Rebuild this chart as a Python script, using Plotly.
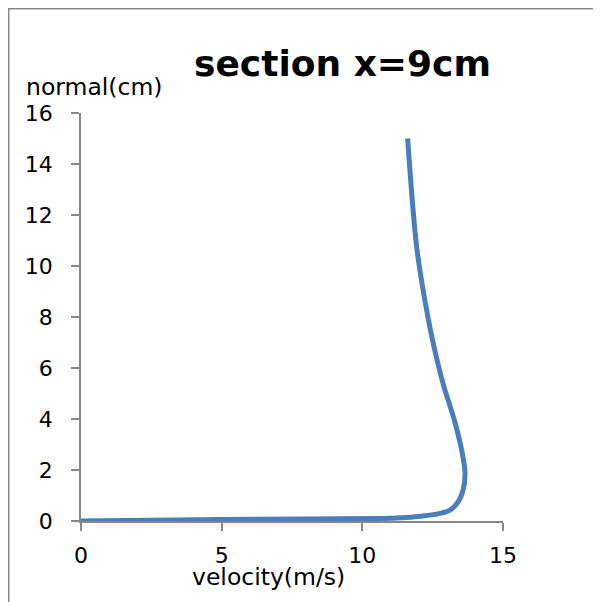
import plotly.graph_objects as go

# velocity (m/s) and normal distance (cm)
velocity = [0, 5.0, 8.0, 10.6, 11.4, 12.05, 12.64, 13.12, 13.41, 13.6, 13.65,
            13.58, 13.27, 12.9, 12.6, 12.33, 11.93, 11.61]
normal = [0, 0.06, 0.08, 0.1, 0.13, 0.19, 0.27, 0.43, 0.76, 1.3, 1.87,
          2.5, 3.96, 5.27, 6.58, 8.0, 10.76, 15.0]

x_ticks = [0, 5, 10, 15]
y_ticks = [0, 2, 4, 6, 8, 10, 12, 14, 16]

title_text = "section x=9cm"
x_title = "velocity(m/s)"
y_title = "normal(cm)"

# the page body adds an 8px offset; size the figure so it fits the window
OFF = 8
W, H = 601 - OFF, 602 - OFF
L, T = 81 - OFF, 113 - OFF
R = W - (503 - OFF)
B = H - (521 - OFF)
pw, ph = W - L - R, H - T - B

def px(xs):  # screenshot x pixel -> paper
    return (xs - OFF - L) / pw

def py(ys):  # screenshot y pixel -> paper
    return (H - B - (ys - OFF)) / ph

FONT = "DejaVu Sans"
GRAY = "#878787"

fig = go.Figure()
fig.add_trace(go.Scatter(
    x=velocity, y=normal, mode="lines",
    line=dict(color="#4A7EBB", width=5, shape="spline", smoothing=0.8),
    hoverinfo="skip", showlegend=False,
))

axis_common = dict(
    showgrid=False, zeroline=False, showline=True, linecolor=GRAY, linewidth=1.5,
    ticks="outside", ticklen=8, tickcolor=GRAY, tickwidth=1.5,
    tickfont=dict(family=FONT, size=22, color="#000000"),
    layer="below traces", fixedrange=True,
)

fig.update_xaxes(range=[0, 15], tickvals=x_ticks, ticktext=[str(v) for v in x_ticks],
                 ticklabelstandoff=6, **axis_common)
fig.update_yaxes(range=[0, 16], tickvals=y_ticks, ticktext=[str(v) for v in y_ticks],
                 ticklabelstandoff=14, **axis_common)

fig.update_layout(
    width=W, height=H,
    margin=dict(l=L, r=R, t=T, b=B, pad=0),
    paper_bgcolor="white", plot_bgcolor="white",
    showlegend=False,
    annotations=[
        dict(text=title_text, xref="paper", yref="paper", x=px(342), y=py(63),
             xanchor="center", yanchor="middle", showarrow=False,
             font=dict(family=FONT, size=36, color="#000000", weight="bold")),
        dict(text=y_title, xref="paper", yref="paper", x=px(24), y=py(87),
             xanchor="left", yanchor="middle", showarrow=False,
             font=dict(family=FONT, size=23.5, color="#000000")),
        dict(text=x_title, xref="paper", yref="paper", x=px(268), y=py(577),
             xanchor="center", yanchor="middle", showarrow=False,
             font=dict(family=FONT, size=23.5, color="#000000")),
    ],
    shapes=[
        dict(type="line", xref="paper", yref="paper", x0=px(OFF), x1=px(620),
             y0=py(OFF + 0.75), y1=py(OFF + 0.75), line=dict(color=GRAY, width=1.5)),
        dict(type="line", xref="paper", yref="paper", x0=px(OFF + 0.75), x1=px(OFF + 0.75),
             y0=py(OFF), y1=py(620), line=dict(color=GRAY, width=1.5)),
    ],
)

fig.write_html("out.html")
